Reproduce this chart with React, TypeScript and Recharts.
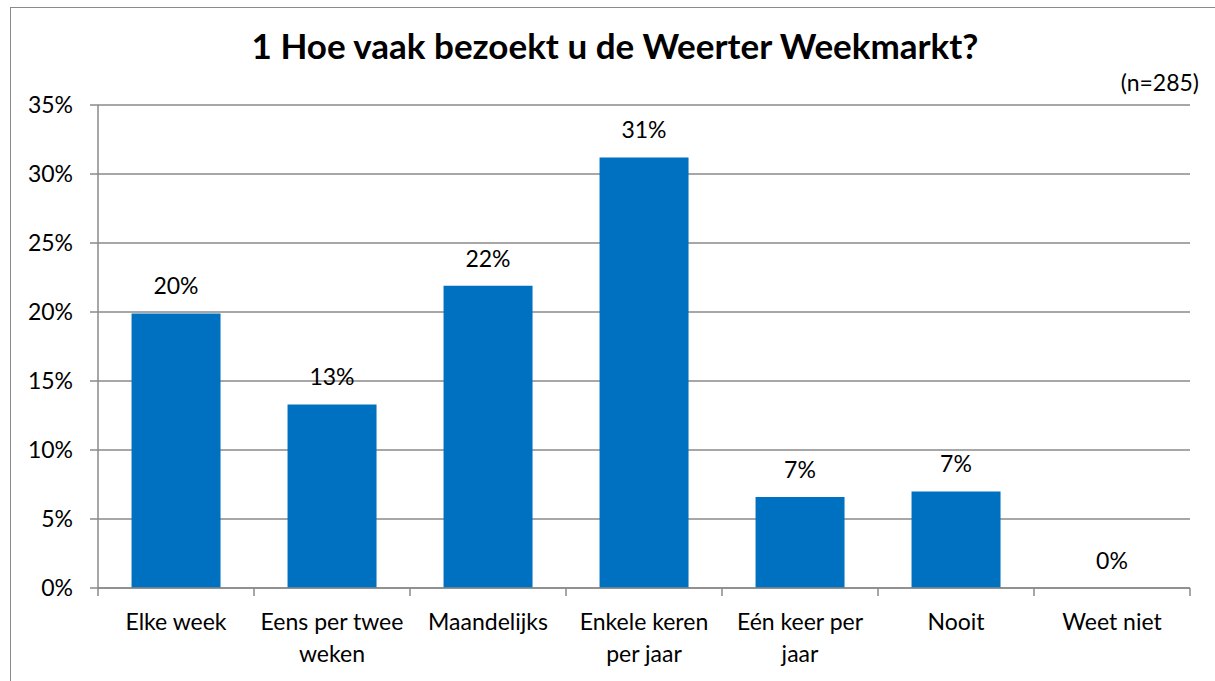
import React from 'react';
import { ComposedChart, Bar, Scatter, XAxis, YAxis, CartesianGrid } from 'recharts';

const CATEGORIES = ['Elke week', 'Eens per twee weken', 'Maandelijks', 'Enkele keren per jaar', 'Eén keer per jaar', 'Nooit', 'Weet niet'];
const TICK_LINES = [['Elke week'], ['Eens per twee', 'weken'], ['Maandelijks'], ['Enkele keren', 'per jaar'], ['Eén keer per', 'jaar'], ['Nooit'], ['Weet niet']];
const VALUES = [19.9, 13.3, 21.9, 31.2, 6.6, 7.0, 0];
const Y_TICKS = [0, 5, 10, 15, 20, 25, 30, 35];

const TITLE = '1 Hoe vaak bezoekt u de Weerter Weekmarkt?';
const NOTE = '(n=285)';

const W = 1215;
const H = 681;
const M_LEFT = 98;
const M_RIGHT = 25;
const BAND = (W - M_LEFT - M_RIGHT) / CATEGORIES.length;
const GRID = '#8a8a8a';
const FONT = 'Lato, "Open Sans", sans-serif';
const FS = 23;

const data = CATEGORIES.map((name, i) => ({ name, value: VALUES[i] }));

const CategoryTick = ({ x, y, payload }: any) => {
  const idx = CATEGORIES.indexOf(payload.value);
  const lines = TICK_LINES[idx] || [payload.value];
  const half = BAND / 2;
  return (
    <g>
      <line x1={x - half} x2={x - half} y1={y} y2={y + 8} stroke={GRID} strokeWidth={1.5} />
      {idx === CATEGORIES.length - 1 && (
        <line x1={x + half} x2={x + half} y1={y} y2={y + 8} stroke={GRID} strokeWidth={1.5} />
      )}
      <text x={x} y={y + 42} textAnchor="middle" fill="#000" fontSize={FS} fontFamily={FONT}>
        {lines.map((l, i) => (
          <tspan key={i} x={x} dy={i === 0 ? 0 : 32}>{l}</tspan>
        ))}
      </text>
    </g>
  );
};

// value labels drawn as scatter shapes so the 0% bar also gets one
const ValueLabel = (props: any) => {
  const { cx, cy, payload } = props;
  if (cx == null || cy == null) return null;
  return (
    <text x={cx} y={cy - 19} textAnchor="middle" fill="#000" fontSize={FS} fontFamily={FONT}>
      {`${Math.round(Number(payload.value))}%`}
    </text>
  );
};

export default function App() {
  return (
    <div style={{ position: 'absolute', left: 0, top: 0, width: W, height: H, overflow: 'hidden', background: '#fff', fontFamily: FONT }}>
      <div style={{ position: 'absolute', left: 10, top: 7, width: W + 20, height: H + 20, border: `1.5px solid ${GRID}` }} />
      <div style={{ position: 'absolute', left: 0, top: 24, width: 1230, textAlign: 'center', fontSize: 35, fontWeight: 700, color: '#000' }}>
        {TITLE}
      </div>
      <div style={{ position: 'absolute', right: 16, top: 68, fontSize: FS, color: '#000' }}>{NOTE}</div>
      <div style={{ position: 'absolute', left: 0, top: 0 }}>
        <ComposedChart width={W} height={H} data={data} margin={{ top: 105, right: M_RIGHT, left: 0, bottom: 0 }} barCategoryGap="21.5%">
          <CartesianGrid vertical={false} stroke={GRID} strokeWidth={1.5} />
          <XAxis
            dataKey="name"
            height={93}
            interval={0}
            tickSize={0}
            tickMargin={0}
            tick={<CategoryTick />}
            axisLine={{ stroke: GRID, strokeWidth: 1.5 }}
          />
          <YAxis
            width={M_LEFT}
            domain={[0, 35]}
            ticks={Y_TICKS}
            tickFormatter={(v: number) => `${v}%`}
            tickSize={8}
            tickMargin={17}
            tick={{ fill: '#000', fontSize: FS, fontFamily: FONT }}
            tickLine={{ stroke: GRID, strokeWidth: 1.5 }}
            axisLine={{ stroke: GRID, strokeWidth: 1.5 }}
          />
          <Bar dataKey="value" fill="#0070C0" isAnimationActive={false} />
          <Scatter dataKey="value" shape={<ValueLabel />} isAnimationActive={false} />
        </ComposedChart>
      </div>
    </div>
  );
}
